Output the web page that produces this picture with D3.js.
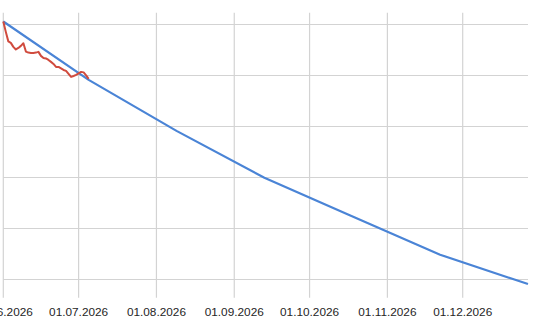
<!DOCTYPE html>
<html>
<head>
<meta charset="utf-8">
<script src="https://cdn.jsdelivr.net/npm/d3@7"></script>
<style>
  body { margin: 0; background: #fff; }
  svg { display: block; }
</style>
</head>
<body>
<svg id="chart"></svg>
<script>
// Actual values (daily), starting 01.06.2026
const actualStart = "2026-06-01";
const actualValues = [
    100.23, 99.22, 98.29, 98.14, 97.75, 97.50, 97.65, 97.85, 98.11, 97.29,
    97.19, 97.16, 97.16, 97.19, 97.26, 96.87, 96.67, 96.62, 96.47, 96.28,
    96.08, 95.79, 95.79, 95.64, 95.49, 95.40, 95.10, 94.81, 94.90, 95.00,
    95.15, 95.30, 95.25, 94.96, 94.61
];

// Target curve
const targetDates = ["2026-06-01", "2026-07-05", "2026-08-09", "2026-09-13", "2026-10-17", "2026-11-22", "2026-12-27"];
const targetValues = [100.24, 94.52, 89.52, 84.92, 81.25, 77.38, 74.51];

// Axis ticks
const xTickDates = ["2026-06-01", "2026-07-01", "2026-08-01", "2026-09-01", "2026-10-01", "2026-11-01", "2026-12-01"];
const yTickValues = [75, 80, 85, 90, 95, 100];

const parseDate = d3.utcParse("%Y-%m-%d");
const fmt = d3.utcFormat("%d.%m.%Y");

const dimensions = {
    width: 535,
    height: 323,
    plotLeft: 3.3,
    plotRight: 528,
    plotTop: 12.7,
    plotBottom: 297.7
};

const start = parseDate(actualStart);
const actual = actualValues.map((v, i) => ({ date: d3.utcDay.offset(start, i), value: v }));
const target = targetDates.map((d, i) => ({ date: parseDate(d), value: targetValues[i] }));

const xScale = d3.scaleUtc()
    .domain([parseDate("2026-06-01"), parseDate("2026-12-27")])
    .range([dimensions.plotLeft, dimensions.plotLeft + 209 * 2.5104]);

const yScale = d3.scaleLinear()
    .domain([73.17, 101.1])
    .range([dimensions.plotBottom, dimensions.plotTop]);

const svg = d3.select("#chart")
    .attr("width", dimensions.width)
    .attr("height", dimensions.height);

svg.append("rect")
    .attr("width", dimensions.width)
    .attr("height", dimensions.height)
    .attr("fill", "#fff");

// horizontal gridlines
svg.append("g")
    .selectAll("line")
    .data(yTickValues)
    .enter()
    .append("line")
    .attr("x1", dimensions.plotLeft)
    .attr("x2", dimensions.plotRight)
    .attr("y1", d => Math.round(yScale(d)) + 0.5)
    .attr("y2", d => Math.round(yScale(d)) + 0.5)
    .attr("stroke", "#d3d3d3")
    .attr("stroke-width", 1.2);

// vertical gridlines
const xTicks = xTickDates.map(parseDate);
svg.append("g")
    .selectAll("line")
    .data(xTicks)
    .enter()
    .append("line")
    .attr("x1", d => xScale(d))
    .attr("x2", d => xScale(d))
    .attr("y1", dimensions.plotTop)
    .attr("y2", dimensions.plotBottom)
    .attr("stroke", "#d3d3d3")
    .attr("stroke-width", 1.2);

// x labels
svg.append("g")
    .selectAll("text")
    .data(xTicks)
    .enter()
    .append("text")
    .attr("x", d => xScale(d))
    .attr("y", 315.5)
    .attr("text-anchor", "middle")
    .style("font-family", "Arial, 'Liberation Sans', sans-serif")
    .style("font-size", "11.8px")
    .attr("fill", "#262626")
    .text(d => fmt(d));

const line = d3.line()
    .x(d => xScale(d.date))
    .y(d => yScale(d.value));

svg.append("path")
    .datum(target)
    .attr("d", line)
    .attr("fill", "none")
    .attr("stroke", "#4a84d6")
    .attr("stroke-width", 2.2)
    .attr("stroke-linejoin", "round");

svg.append("path")
    .datum(actual)
    .attr("d", line)
    .attr("fill", "none")
    .attr("stroke", "#d04b3e")
    .attr("stroke-width", 2)
    .attr("stroke-linejoin", "round");
</script>
</body>
</html>
